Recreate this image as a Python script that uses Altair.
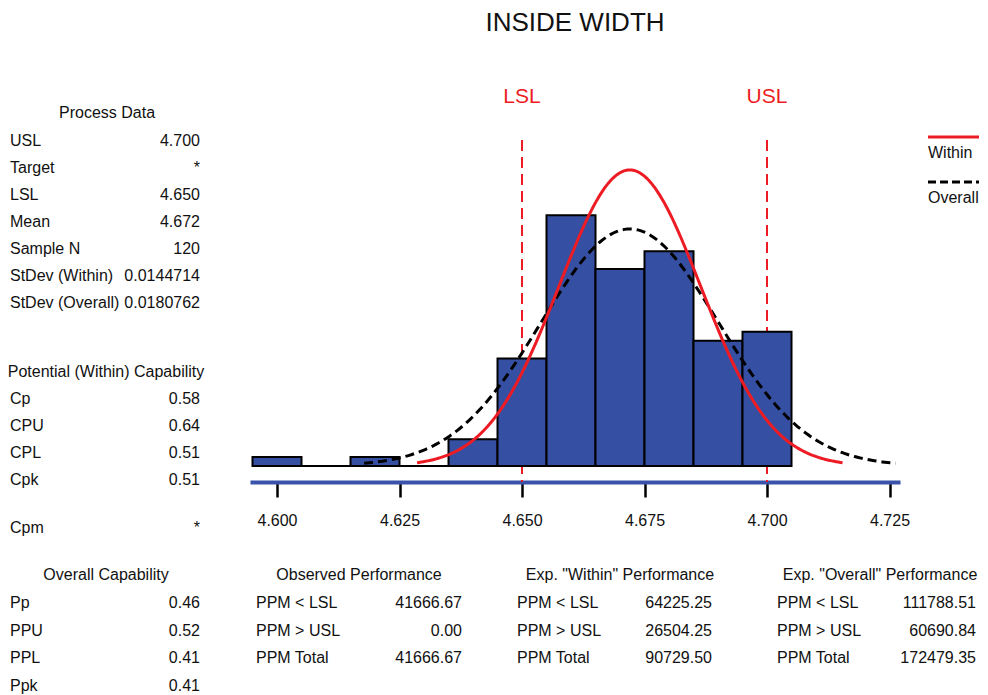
import math
import altair as alt
import pandas as pd

# ---------------- data ----------------
bin_lo = [4.595, 4.605, 4.615, 4.625, 4.635, 4.645, 4.655, 4.665, 4.675, 4.685, 4.695]
counts = [1, 0, 1, 0, 3, 12, 28, 22, 24, 14, 15]
bin_width = 0.01
LSL = 4.650
USL = 4.700
mean = 4.672
sd_within = 0.0144714
sd_overall = 0.0180762
n_obs = 120
tick_values = [4.600, 4.625, 4.650, 4.675, 4.700, 4.725]
chart_title = "INSIDE WIDTH"

process_labels = ["USL", "Target", "LSL", "Mean", "Sample N", "StDev (Within)", "StDev (Overall)"]
process_values = ["4.700", "*", "4.650", "4.672", "120", "0.0144714", "0.0180762"]
potential_labels = ["Cp", "CPU", "CPL", "Cpk", "Cpm"]
potential_values = ["0.58", "0.64", "0.51", "0.51", "*"]
overall_cap_labels = ["Pp", "PPU", "PPL", "Ppk"]
overall_cap_values = ["0.46", "0.52", "0.41", "0.41"]
perf_labels = ["PPM < LSL", "PPM > USL", "PPM Total"]
observed_values = ["41666.67", "0.00", "41666.67"]
exp_within_values = ["64225.25", "26504.25", "90729.50"]
exp_overall_values = ["111788.51", "60690.84", "172479.35"]

# ---------------- style / layout ----------------
FONT = "Liberation Sans, Arial, sans-serif"
FS = 16
TXT = "#111111"
RED = "#ED1C24"
BAR_BLUE = "#3550A2"
AXIS_BLUE = "#3B52AA"

W, H = 650, 342
XS = alt.Scale(domain=[4.59449, 4.72714], nice=False, zero=False)
YS = alt.Scale(domain=[-1.788, 36.42], nice=False, zero=False)
XAXIS = alt.Axis(values=tick_values, format=".3f", title=None, grid=False,
                 domainColor=AXIS_BLUE, domainWidth=4, tickColor="black", tickWidth=2.5,
                 tickSize=15, labelFont=FONT, labelFontSize=FS, labelColor=TXT,
                 labelPadding=28, labelBaseline="alphabetic", labelFlush=False,
                 labelOverlap=False)


def X(field):
    return alt.X(field, type="quantitative", scale=XS, axis=XAXIS)


def Y(field):
    return alt.Y(field, type="quantitative", scale=YS, axis=None)


# spec limits
spec_df = pd.DataFrame({"v": [LSL, USL], "lab": ["LSL", "USL"]})
spec_rules = alt.Chart(spec_df).mark_rule(color=RED, strokeWidth=2, strokeDash=[11, 6]).encode(
    x=X("v"))
spec_text = alt.Chart(spec_df).mark_text(font=FONT, fontSize=21, color=RED, baseline="middle").encode(
    x=X("v"), y=alt.value(-43), text="lab:N")

# histogram
hist_df = pd.DataFrame({"lo": bin_lo, "count": counts})
bars = alt.Chart(hist_df).transform_calculate(hi=f"datum.lo + {bin_width}").mark_rect(
    fill=BAR_BLUE, stroke="black", strokeWidth=2).encode(
    x=X("lo"), x2="hi:Q", y=Y("count"), y2=alt.datum(0))


def normal_curve(sd, **mark):
    start = mean - 3 * sd
    stop = mean + 3 * sd
    step = (stop - start) / 200
    return alt.Chart(alt.sequence(start, stop + step / 2, step, as_="x")).transform_calculate(
        y=f"{n_obs * bin_width}/({sd}*sqrt(2*PI))*exp(-0.5*pow((datum.x-{mean})/{sd},2))"
    ).mark_line(**mark).encode(x=X("x"), y=Y("y"))


overall_curve = normal_curve(sd_overall, color="black", strokeWidth=3, strokeDash=[9, 5])
within_curve = normal_curve(sd_within, color=RED, strokeWidth=3)

# title (drawn as text so that it sits exactly where the reference has it)
title_text = alt.Chart(pd.DataFrame({"t": [chart_title]})).mark_text(
    font=FONT, fontSize=26, color=TXT, align="center", baseline="alphabetic").encode(
    x=alt.value(W / 2), y=alt.value(-109), text="t:N")

# legend (drawn)
leg_red = alt.Chart(pd.DataFrame({"k": [0]})).mark_rule(color=RED, strokeWidth=3).encode(
    x=alt.value(678), x2=alt.value(729), y=alt.value(-3))
leg_black = alt.Chart(pd.DataFrame({"k": [0]})).mark_rule(color="black", strokeWidth=3,
                                                          strokeDash=[8, 4]).encode(
    x=alt.value(678), x2=alt.value(729), y=alt.value(42))
leg_text = alt.Chart(pd.DataFrame({"t": ["Within", "Overall"], "py": [13, 58]})).mark_text(
    font=FONT, fontSize=FS, color=TXT, align="left", baseline="middle").encode(
    x=alt.value(678), y=alt.Y("py:Q", scale=None, axis=None), text="t:N")


def header(txt, x, y, align="center"):
    return alt.Chart(pd.DataFrame({"t": [txt]})).mark_text(
        font=FONT, fontSize=FS, color=TXT, align=align, baseline="middle").encode(
        x=alt.value(x), y=alt.value(y), text="t:N")


def table(labels, values, ys, x_label, x_value):
    df = pd.DataFrame({"label": labels, "value": values, "py": ys})
    base = alt.Chart(df)
    lab = base.mark_text(font=FONT, fontSize=FS, color=TXT, align="left", baseline="middle").encode(
        x=alt.value(x_label), y=alt.Y("py:Q", scale=None, axis=None), text="label:N")
    val = base.mark_text(font=FONT, fontSize=FS, color=TXT, align="right", baseline="middle").encode(
        x=alt.value(x_value), y=alt.Y("py:Q", scale=None, axis=None), text="value:N")
    return [lab, val]


PROC_Y = [1, 28, 55, 82, 109, 136, 163]
POT_Y = [259, 286, 313, 340, 388]
BOT_Y3 = [463, 490.5, 518]
BOT_Y4 = [463, 490.5, 518, 545.5]

texts = []
texts.append(header("Process Data", -143, -27))
texts += table(process_labels, process_values, PROC_Y, -240, -50)
texts.append(header("Potential (Within) Capability", -144, 232))
texts += table(potential_labels, potential_values, POT_Y, -240, -50)
texts.append(header("Overall Capability", -144, 435))
texts += table(overall_cap_labels, overall_cap_values, BOT_Y4, -240, -50)
texts.append(header("Observed Performance", 109, 435))
texts += table(perf_labels, observed_values, BOT_Y3, 6, 212)
texts.append(header('Exp. "Within" Performance', 370, 435))
texts += table(perf_labels, exp_within_values, BOT_Y3, 267, 462)
texts.append(header('Exp. "Overall" Performance', 630, 435))
texts += table(perf_labels, exp_overall_values, BOT_Y3, 527, 726)

chart = alt.layer(
    spec_rules, bars, overall_curve, within_curve, spec_text, title_text,
    leg_red, leg_black, leg_text, *texts
).properties(
    width=W, height=H,
    padding={"left": 242, "top": 132, "right": 80, "bottom": 213},
    autosize=alt.AutoSizeParams(type="none"),
).configure_view(strokeWidth=0)

chart.save("out.html", embed_options={"renderer": "svg", "actions": False})
